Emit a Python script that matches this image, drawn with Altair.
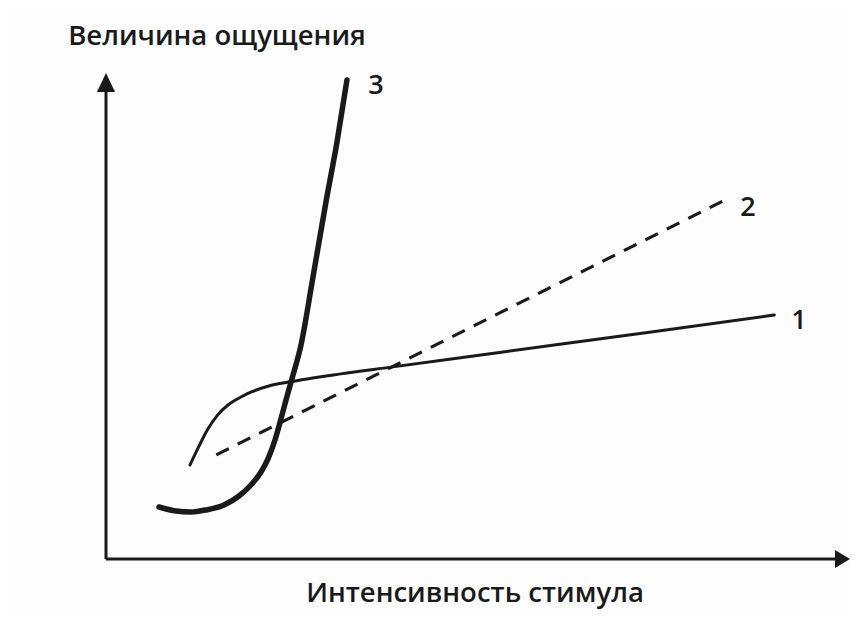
import altair as alt
import pandas as pd

# Curve 1 (thin solid)
c1_x = [11.2, 12.4, 13.6, 14.9, 16.3, 18.0, 19.3, 21.7, 24.3, 31.3, 38.0, 52.7, 72.7, 89.1]
c1_y = [19.5, 23.4, 27.0, 29.9, 32.0, 33.6, 34.6, 35.9, 36.7, 38.4, 39.8, 42.9, 47.1, 50.6]
# Curve 2 (dashed, straight)
c2_x = [14.7, 82.3]
c2_y = [21.6, 74.3]
# Curve 3 (thick)
c3_x = [7.07, 9.33, 11.33, 13.33, 15.73, 17.73, 19.33, 20.67, 21.6, 22.53, 23.33, 24.0, 24.67, 26.0, 27.6, 29.33, 30.8, 32.13]
c3_y = [10.79, 9.96, 9.75, 10.17, 11.2, 13.07, 15.35, 18.05, 20.75, 24.69, 29.05, 32.99, 36.72, 44.4, 58.51, 74.07, 86.51, 99.38]

label_text = ["1", "2", "3"]
label_x = [92.4, 85.6, 36.0]
label_y = [49.4, 72.8, 98.2]

title_text = ["Величина ощущения", "Интенсивность стимула"]
title_x = [14.8, 49.2]
title_y = [108.3, -7.3]

def curve(xs, ys):
    return pd.DataFrame({"x": xs, "y": ys, "i": range(len(xs))})

X_MAX = 99.2
Y_MAX = 100.4
X = alt.X("x:Q", scale=alt.Scale(domain=[0, X_MAX], nice=False, zero=False), axis=None)
Y = alt.Y("y:Q", scale=alt.Scale(domain=[0, Y_MAX], nice=False, zero=False), axis=None)

FONT = "Open Sans"
INK = "#1a1a1a"

l1 = alt.Chart(curve(c1_x, c1_y)).mark_line(
    color=INK, strokeWidth=3, interpolate="monotone", strokeCap="round"
).encode(x=X, y=Y, order="i:O")

l2 = alt.Chart(curve(c2_x, c2_y)).mark_line(
    color=INK, strokeWidth=3.2, strokeDash=[14, 10]
).encode(x=X, y=Y, order="i:O")

l3 = alt.Chart(curve(c3_x, c3_y)).mark_line(
    color=INK, strokeWidth=5.5, interpolate="monotone", strokeCap="round"
).encode(x=X, y=Y, order="i:O")

axes_df = pd.DataFrame({"x": [0, 0], "y": [0, 0], "x2": [97.5, 0], "y2": [0, 97.5]})
axes = alt.Chart(axes_df).mark_rule(color=INK, strokeWidth=3).encode(
    x=X, y=Y, x2="x2:Q", y2="y2:Q"
)

arrow_x = alt.Chart(pd.DataFrame({"x": [X_MAX], "y": [0]})).mark_point(
    shape="M 0 0 L -2 -1.2 L -2 1.2 Z", filled=True, size=225, color=INK, opacity=1
).encode(x=X, y=Y)
arrow_y = alt.Chart(pd.DataFrame({"x": [0], "y": [100.8]})).mark_point(
    shape="M 0 0 L -0.95 2 L 0.95 2 Z", filled=True, size=361, color=INK, opacity=1
).encode(x=X, y=Y)

labels = alt.Chart(pd.DataFrame({"x": label_x, "y": label_y, "t": label_text})).mark_text(
    font=FONT, fontSize=27, fontWeight=600, color=INK
).encode(x=X, y=Y, text="t:N")

titles = alt.Chart(pd.DataFrame({"x": title_x, "y": title_y, "t": title_text})).mark_text(
    font=FONT, fontSize=27.5, fontWeight=600, color=INK
).encode(x=X, y=Y, text="t:N")

chart = alt.layer(axes, arrow_x, arrow_y, l2, l1, l3, labels, titles).properties(
    width=744, height=484,
    autosize=alt.AutoSizeParams(type="none"),
    padding={"left": 98, "top": 67, "right": 0, "bottom": 55},
    background="#fdfdfd",
).configure_view(stroke=None, clip=False)

chart.save("out.html", embed_options={"renderer": "svg", "actions": False})
